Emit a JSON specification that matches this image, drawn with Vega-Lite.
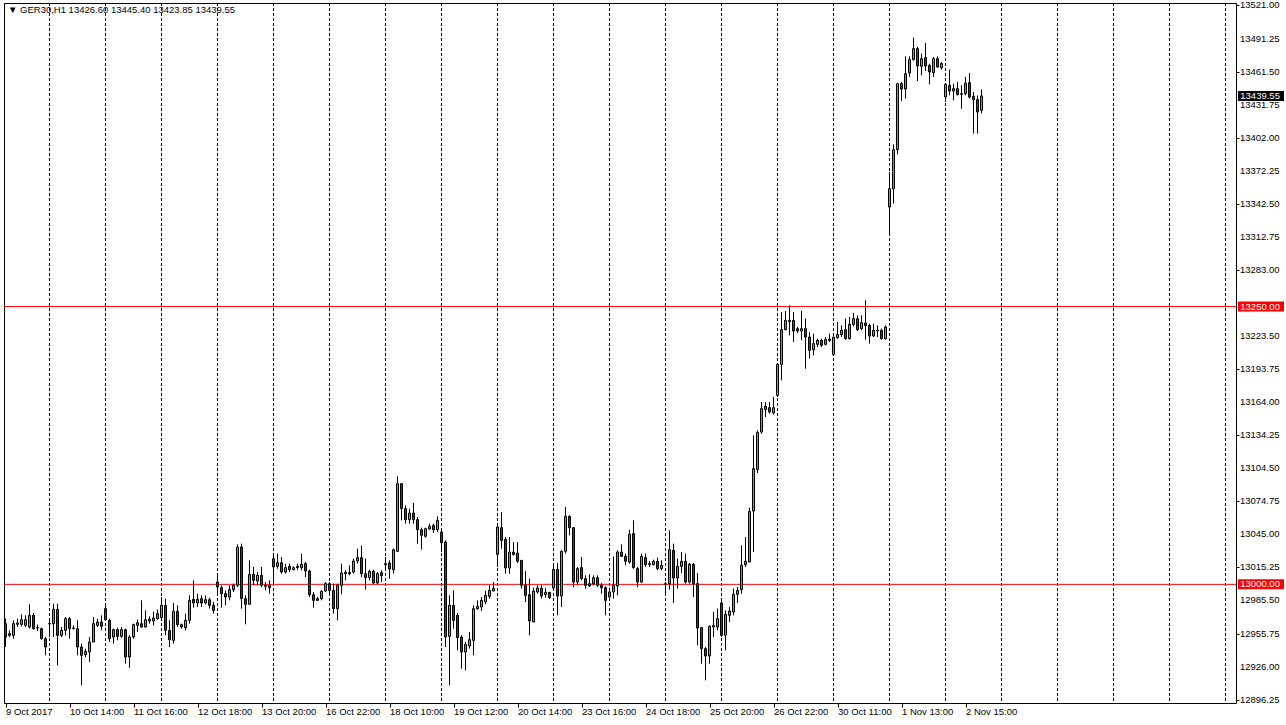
{
"$schema":"https://vega.github.io/schema/vega-lite/v6.json",
"width":1232,"height":700,
"autosize":{"type":"none"},
"padding":{"left":4,"top":3,"right":50,"bottom":22},
"background":"white",
"config":{"view":{"stroke":"#000","strokeWidth":1},"font":"Liberation Sans","axis":{"labelOverlap":false,"labelFlush":false,"grid":false,"domain":false,"title":null}},
"title":{"text":"▼ GER30,H1  13426.60 13445.40 13423.85 13439.55","anchor":"start","frame":"group","offset":-14,"dx":4,"font":"Liberation Sans","fontSize":9.5,"fontWeight":"normal","color":"#000"},
"datasets":{
"grid":[{"g":11},{"g":25},{"g":39},{"g":53},{"g":67},{"g":81},{"g":95},{"g":109},{"g":123},{"g":137},{"g":151},{"g":165},{"g":179},{"g":193},{"g":207},{"g":221},{"g":235},{"g":249},{"g":263},{"g":277},{"g":291},{"g":305}],
"yticks":[{"v":13521},{"v":13491.25},{"v":13461.5},{"v":13431.75},{"v":13402},{"v":13372.25},{"v":13342.5},{"v":13312.75},{"v":13283},{"v":13223.5},{"v":13193.75},{"v":13164},{"v":13134.25},{"v":13104.5},{"v":13074.75},{"v":13045},{"v":13015.25},{"v":12985.5},{"v":12955.75},{"v":12926},{"v":12896.25}],
"lines":[{"p":13250},{"p":13000}],
"boxes":[{"p":13250,"t":"13250.00","bg":"#ff0000"},{"p":13000,"t":"13000.00","bg":"#ff0000"},{"p":13439.55,"t":"13439.55","bg":"#000000"}],
"candles":[
{"i":0,"o":12964.6,"h":12969.1,"l":12943.6,"c":12952.6},
{"i":1,"o":12955.6,"h":12958.6,"l":12952.6,"c":12954.1},
{"i":2,"o":12954.1,"h":12967.6,"l":12951.1,"c":12964.6},
{"i":3,"o":12964.0,"h":12969.1,"l":12961.6,"c":12965.2},
{"i":4,"o":12964.0,"h":12973.0,"l":12962.2,"c":12968.2},
{"i":5,"o":12963.1,"h":12972.1,"l":12961.6,"c":12968.2},
{"i":6,"o":12961.6,"h":12982.0,"l":12960.1,"c":12972.1},
{"i":7,"o":12972.1,"h":12974.2,"l":12959.2,"c":12960.1},
{"i":8,"o":12961.0,"h":12963.7,"l":12958.0,"c":12960.7},
{"i":9,"o":12960.1,"h":12961.0,"l":12950.2,"c":12951.1},
{"i":10,"o":12951.1,"h":12952.6,"l":12936.1,"c":12943.6},
{"i":11,"o":12964.3,"h":12967.6,"l":12952.6,"c":12964.6},
{"i":12,"o":12964.6,"h":12982.6,"l":12952.6,"c":12977.5},
{"i":13,"o":12977.5,"h":12982.6,"l":12927.1,"c":12954.1},
{"i":14,"o":12954.1,"h":12961.6,"l":12952.6,"c":12958.6},
{"i":15,"o":12958.6,"h":12970.6,"l":12954.1,"c":12969.1},
{"i":16,"o":12969.1,"h":12970.6,"l":12951.1,"c":12960.1},
{"i":17,"o":12960.7,"h":12963.1,"l":12959.2,"c":12960.4},
{"i":18,"o":12960.1,"h":12967.6,"l":12936.1,"c":12943.6},
{"i":19,"o":12943.6,"h":12946.6,"l":12909.1,"c":12936.1},
{"i":20,"o":12936.7,"h":12942.1,"l":12934.6,"c":12939.7},
{"i":21,"o":12939.1,"h":12952.6,"l":12930.1,"c":12948.1},
{"i":22,"o":12948.1,"h":12970.6,"l":12948.1,"c":12964.6},
{"i":23,"o":12963.1,"h":12969.1,"l":12961.6,"c":12966.1},
{"i":24,"o":12966.1,"h":12972.1,"l":12958.6,"c":12962.2},
{"i":25,"o":12978.1,"h":12981.1,"l":12967.6,"c":12968.2},
{"i":26,"o":12967.6,"h":12969.1,"l":12948.1,"c":12951.1},
{"i":27,"o":12952.6,"h":12960.1,"l":12946.6,"c":12959.2},
{"i":28,"o":12959.2,"h":12961.0,"l":12949.6,"c":12953.2},
{"i":29,"o":12953.2,"h":12961.6,"l":12952.0,"c":12959.2},
{"i":30,"o":12959.2,"h":12960.1,"l":12928.6,"c":12934.6},
{"i":31,"o":12934.6,"h":12954.1,"l":12925.0,"c":12952.6},
{"i":32,"o":12952.6,"h":12964.6,"l":12951.0,"c":12963.7},
{"i":33,"o":12963.1,"h":12968.2,"l":12957.1,"c":12965.5},
{"i":34,"o":12964.6,"h":12985.6,"l":12961.0,"c":12961.6},
{"i":35,"o":12961.6,"h":12976.6,"l":12961.0,"c":12968.2},
{"i":36,"o":12967.0,"h":12971.2,"l":12964.6,"c":12968.5},
{"i":37,"o":12967.0,"h":12975.4,"l":12963.1,"c":12969.7},
{"i":38,"o":12969.1,"h":12977.2,"l":12968.2,"c":12973.6},
{"i":39,"o":12970.0,"h":12988.6,"l":12968.2,"c":12981.1},
{"i":40,"o":12981.1,"h":12987.1,"l":12954.1,"c":12958.6},
{"i":41,"o":12958.6,"h":12967.6,"l":12943.6,"c":12950.2},
{"i":42,"o":12949.6,"h":12983.2,"l":12946.6,"c":12975.7},
{"i":43,"o":12975.7,"h":12981.1,"l":12961.6,"c":12963.7},
{"i":44,"o":12963.7,"h":12964.6,"l":12960.1,"c":12961.6},
{"i":45,"o":12961.0,"h":12973.6,"l":12958.6,"c":12967.6},
{"i":46,"o":12967.6,"h":12990.1,"l":12964.6,"c":12985.6},
{"i":47,"o":12986.5,"h":13003.6,"l":12979.0,"c":12983.2},
{"i":48,"o":12983.2,"h":12991.6,"l":12979.6,"c":12986.5},
{"i":49,"o":12987.1,"h":12990.1,"l":12979.6,"c":12983.2},
{"i":50,"o":12983.2,"h":12990.1,"l":12982.0,"c":12986.2},
{"i":51,"o":12986.2,"h":12988.0,"l":12978.1,"c":12981.1},
{"i":52,"o":12981.1,"h":12984.1,"l":12973.6,"c":12976.6},
{"i":53,"o":13002.1,"h":13009.6,"l":12990.1,"c":12997.6},
{"i":54,"o":12997.0,"h":12999.1,"l":12979.0,"c":12991.6},
{"i":55,"o":12991.6,"h":12994.6,"l":12981.1,"c":12988.6},
{"i":56,"o":12988.6,"h":12999.1,"l":12985.6,"c":12995.2},
{"i":57,"o":12995.2,"h":13000.6,"l":12993.1,"c":12999.1},
{"i":58,"o":12999.1,"h":13036.0,"l":12997.6,"c":13033.6},
{"i":59,"o":13033.6,"h":13036.6,"l":12978.1,"c":12987.1},
{"i":60,"o":12987.1,"h":12990.1,"l":12964.0,"c":12982.0},
{"i":61,"o":12982.0,"h":13021.6,"l":12982.0,"c":13009.0},
{"i":62,"o":13009.0,"h":13015.6,"l":12999.1,"c":13003.6},
{"i":63,"o":13003.0,"h":13011.1,"l":12999.1,"c":13008.1},
{"i":64,"o":13008.1,"h":13015.6,"l":12997.6,"c":12999.1},
{"i":65,"o":12999.1,"h":13002.1,"l":12994.6,"c":12998.2},
{"i":66,"o":12999.1,"h":13003.6,"l":12991.6,"c":12997.0},
{"i":67,"o":13023.1,"h":13026.1,"l":13000.6,"c":13015.6},
{"i":68,"o":13016.2,"h":13027.6,"l":13014.1,"c":13019.5},
{"i":69,"o":13019.5,"h":13024.6,"l":13009.6,"c":13011.1},
{"i":70,"o":13011.1,"h":13018.6,"l":13009.6,"c":13015.0},
{"i":71,"o":13016.2,"h":13018.6,"l":13011.1,"c":13013.2},
{"i":72,"o":13013.2,"h":13016.2,"l":13012.6,"c":13015.0},
{"i":73,"o":13015.0,"h":13018.6,"l":13013.2,"c":13016.2},
{"i":74,"o":13015.0,"h":13027.6,"l":13012.6,"c":13018.0},
{"i":75,"o":13018.6,"h":13020.1,"l":13006.6,"c":13012.0},
{"i":76,"o":13012.0,"h":13013.2,"l":12988.6,"c":12990.7},
{"i":77,"o":12990.7,"h":12993.1,"l":12979.0,"c":12985.6},
{"i":78,"o":12987.1,"h":12988.6,"l":12985.0,"c":12985.6},
{"i":79,"o":12987.1,"h":12994.6,"l":12985.6,"c":12993.7},
{"i":80,"o":12994.0,"h":13002.1,"l":12993.1,"c":13000.6},
{"i":81,"o":13000.6,"h":13002.1,"l":12991.0,"c":12994.6},
{"i":82,"o":12994.6,"h":13000.6,"l":12973.6,"c":12978.1},
{"i":83,"o":12978.1,"h":13000.6,"l":12967.6,"c":12999.1},
{"i":84,"o":12999.1,"h":13018.6,"l":12991.0,"c":13010.2},
{"i":85,"o":13009.6,"h":13012.6,"l":13003.6,"c":13010.8},
{"i":86,"o":13010.8,"h":13017.1,"l":13008.1,"c":13009.6},
{"i":87,"o":13011.1,"h":13023.1,"l":13009.6,"c":13021.0},
{"i":88,"o":13021.0,"h":13032.1,"l":13018.6,"c":13024.0},
{"i":89,"o":13024.0,"h":13035.1,"l":13006.6,"c":13009.6},
{"i":90,"o":13009.6,"h":13023.1,"l":12995.2,"c":13006.0},
{"i":91,"o":13006.0,"h":13013.2,"l":13003.6,"c":13011.7},
{"i":92,"o":13011.7,"h":13013.2,"l":13000.6,"c":13001.2},
{"i":93,"o":13001.2,"h":13011.1,"l":13000.6,"c":13009.6},
{"i":94,"o":13010.5,"h":13012.6,"l":13002.1,"c":13007.8},
{"i":95,"o":13017.7,"h":13024.6,"l":13012.6,"c":13018.6},
{"i":96,"o":13019.2,"h":13021.6,"l":13005.1,"c":13013.8},
{"i":97,"o":13013.2,"h":13032.1,"l":13009.6,"c":13031.2},
{"i":98,"o":13029.7,"h":13097.2,"l":13029.1,"c":13090.6},
{"i":99,"o":13090.6,"h":13091.2,"l":13057.6,"c":13068.1},
{"i":100,"o":13068.1,"h":13071.1,"l":13054.6,"c":13058.2},
{"i":101,"o":13058.2,"h":13068.1,"l":13054.6,"c":13064.2},
{"i":102,"o":13064.2,"h":13073.2,"l":13054.6,"c":13058.2},
{"i":103,"o":13058.2,"h":13060.6,"l":13036.6,"c":13049.2},
{"i":104,"o":13049.2,"h":13051.0,"l":13031.2,"c":13044.1},
{"i":105,"o":13043.2,"h":13051.0,"l":13042.0,"c":13050.1},
{"i":106,"o":13049.8,"h":13054.6,"l":13049.2,"c":13052.2},
{"i":107,"o":13053.1,"h":13054.6,"l":13046.2,"c":13049.2},
{"i":108,"o":13049.2,"h":13061.2,"l":13047.1,"c":13057.6},
{"i":109,"o":13047.1,"h":13048.6,"l":13029.1,"c":13037.5},
{"i":110,"o":13038.1,"h":13039.6,"l":12943.6,"c":12952.6},
{"i":111,"o":12953.2,"h":12990.1,"l":12909.1,"c":12981.1},
{"i":112,"o":12981.1,"h":12994.6,"l":12960.1,"c":12967.6},
{"i":113,"o":12972.1,"h":12974.2,"l":12940.6,"c":12952.0},
{"i":114,"o":12952.6,"h":12954.1,"l":12924.1,"c":12939.1},
{"i":115,"o":12939.1,"h":12948.1,"l":12922.6,"c":12946.0},
{"i":116,"o":12944.5,"h":12957.1,"l":12942.1,"c":12950.2},
{"i":117,"o":12949.6,"h":12981.1,"l":12936.1,"c":12978.1},
{"i":118,"o":12978.1,"h":12985.6,"l":12977.2,"c":12980.2},
{"i":119,"o":12979.6,"h":12988.6,"l":12976.0,"c":12985.6},
{"i":120,"o":12984.1,"h":12994.0,"l":12982.0,"c":12990.1},
{"i":121,"o":12989.2,"h":12999.1,"l":12987.1,"c":12994.6},
{"i":122,"o":12994.0,"h":13002.1,"l":12994.0,"c":12996.4},
{"i":123,"o":13027.0,"h":13053.1,"l":13015.6,"c":13051.6},
{"i":124,"o":13051.0,"h":13065.1,"l":13032.1,"c":13039.6},
{"i":125,"o":13040.5,"h":13042.6,"l":13009.6,"c":13014.7},
{"i":126,"o":13014.7,"h":13042.6,"l":13009.6,"c":13029.1},
{"i":127,"o":13029.1,"h":13038.1,"l":13026.1,"c":13026.7},
{"i":128,"o":13028.2,"h":13038.1,"l":13019.2,"c":13020.7},
{"i":129,"o":13021.6,"h":13021.6,"l":12996.1,"c":12999.1},
{"i":130,"o":12999.1,"h":13012.0,"l":12984.1,"c":12990.1},
{"i":131,"o":12990.7,"h":13005.1,"l":12954.1,"c":12967.0},
{"i":132,"o":12966.1,"h":12997.0,"l":12966.1,"c":12994.0},
{"i":133,"o":12993.1,"h":12999.1,"l":12991.6,"c":12996.7},
{"i":134,"o":12996.4,"h":12999.1,"l":12987.1,"c":12989.5},
{"i":135,"o":12990.7,"h":12997.0,"l":12988.0,"c":12992.8},
{"i":136,"o":12992.8,"h":12993.1,"l":12986.8,"c":12988.0},
{"i":137,"o":12996.7,"h":13017.1,"l":12995.2,"c":13013.5},
{"i":138,"o":13013.5,"h":13019.2,"l":12972.1,"c":12989.5},
{"i":139,"o":12989.5,"h":13030.6,"l":12979.6,"c":13029.7},
{"i":140,"o":13029.7,"h":13069.6,"l":13027.6,"c":13061.2},
{"i":141,"o":13061.2,"h":13062.1,"l":13044.1,"c":13051.0},
{"i":142,"o":13051.0,"h":13051.6,"l":12997.6,"c":13002.1},
{"i":143,"o":13002.1,"h":13015.6,"l":12999.1,"c":13014.1},
{"i":144,"o":13015.0,"h":13024.6,"l":13003.6,"c":13005.1},
{"i":145,"o":13005.1,"h":13008.1,"l":12996.1,"c":12999.1},
{"i":146,"o":13000.6,"h":13009.0,"l":12997.6,"c":12998.5},
{"i":147,"o":13000.6,"h":13008.1,"l":12999.1,"c":13006.0},
{"i":148,"o":13006.0,"h":13008.1,"l":12997.6,"c":12999.1},
{"i":149,"o":12999.1,"h":13001.2,"l":12991.6,"c":12997.0},
{"i":150,"o":12997.0,"h":12998.2,"l":12972.1,"c":12985.6},
{"i":151,"o":12988.6,"h":12997.0,"l":12988.0,"c":12993.1},
{"i":152,"o":12993.1,"h":13025.2,"l":12987.1,"c":12999.1},
{"i":153,"o":12998.5,"h":13030.6,"l":12990.1,"c":13029.1},
{"i":154,"o":13029.1,"h":13036.0,"l":13024.6,"c":13025.2},
{"i":155,"o":13025.2,"h":13027.6,"l":13017.1,"c":13020.7},
{"i":156,"o":13020.1,"h":13049.2,"l":13018.6,"c":13045.0},
{"i":157,"o":13045.6,"h":13057.6,"l":13014.1,"c":13015.0},
{"i":158,"o":13014.1,"h":13015.6,"l":12997.6,"c":13002.1},
{"i":159,"o":13002.1,"h":13027.6,"l":13001.2,"c":13025.2},
{"i":160,"o":13024.0,"h":13027.6,"l":13015.6,"c":13017.7},
{"i":161,"o":13018.6,"h":13021.0,"l":13015.6,"c":13017.7},
{"i":162,"o":13017.7,"h":13022.2,"l":13017.1,"c":13020.7},
{"i":163,"o":13020.7,"h":13024.0,"l":13012.6,"c":13014.1},
{"i":164,"o":13014.1,"h":13021.6,"l":13012.6,"c":13017.1},
{"i":165,"o":13000.0,"h":13002.1,"l":12991.6,"c":13000.6},
{"i":166,"o":13000.6,"h":13048.6,"l":12995.2,"c":13031.2},
{"i":167,"o":13030.6,"h":13036.6,"l":12983.2,"c":13005.7},
{"i":168,"o":13005.7,"h":13023.1,"l":12996.1,"c":13016.2},
{"i":169,"o":13016.2,"h":13029.1,"l":13010.2,"c":13020.7},
{"i":170,"o":13020.7,"h":13027.6,"l":13000.6,"c":13002.1},
{"i":171,"o":13002.1,"h":13019.2,"l":13000.6,"c":13018.0},
{"i":172,"o":13018.0,"h":13019.2,"l":12988.6,"c":13000.6},
{"i":173,"o":13000.6,"h":13010.2,"l":12945.1,"c":12960.7},
{"i":174,"o":12961.0,"h":12961.6,"l":12928.6,"c":12942.1},
{"i":175,"o":12942.1,"h":12943.6,"l":12913.6,"c":12935.5},
{"i":176,"o":12935.5,"h":12963.1,"l":12928.6,"c":12962.2},
{"i":177,"o":12961.6,"h":12975.1,"l":12952.6,"c":12963.1},
{"i":178,"o":12961.6,"h":12978.1,"l":12958.6,"c":12969.1},
{"i":179,"o":12983.2,"h":12985.6,"l":12952.6,"c":12954.1},
{"i":180,"o":12954.1,"h":12976.6,"l":12940.6,"c":12973.0},
{"i":181,"o":12972.1,"h":12979.6,"l":12966.1,"c":12976.0},
{"i":182,"o":12975.1,"h":12996.1,"l":12972.1,"c":12991.0},
{"i":183,"o":12991.0,"h":12997.6,"l":12983.2,"c":12994.6},
{"i":184,"o":12995.2,"h":13035.1,"l":12991.6,"c":13017.1},
{"i":185,"o":13017.7,"h":13042.6,"l":13015.6,"c":13020.7},
{"i":186,"o":13020.1,"h":13069.0,"l":13020.1,"c":13065.7},
{"i":187,"o":13066.0,"h":13134.1,"l":13029.1,"c":13104.1},
{"i":188,"o":13103.2,"h":13138.6,"l":13100.2,"c":13136.5},
{"i":189,"o":13137.1,"h":13164.1,"l":13135.6,"c":13158.1},
{"i":190,"o":13157.2,"h":13164.1,"l":13150.6,"c":13160.2},
{"i":191,"o":13159.0,"h":13164.1,"l":13153.6,"c":13155.1},
{"i":192,"o":13154.2,"h":13168.6,"l":13153.0,"c":13159.0},
{"i":193,"o":13170.1,"h":13198.0,"l":13168.6,"c":13198.0},
{"i":194,"o":13198.0,"h":13245.1,"l":13183.6,"c":13229.2},
{"i":195,"o":13229.2,"h":13246.0,"l":13228.6,"c":13237.6},
{"i":196,"o":13236.4,"h":13251.1,"l":13224.1,"c":13237.6},
{"i":197,"o":13237.6,"h":13245.1,"l":13218.1,"c":13228.0},
{"i":198,"o":13230.1,"h":13231.6,"l":13226.2,"c":13228.0},
{"i":199,"o":13228.0,"h":13246.0,"l":13219.6,"c":13230.1},
{"i":200,"o":13230.1,"h":13239.1,"l":13194.1,"c":13222.6},
{"i":201,"o":13222.6,"h":13227.1,"l":13203.1,"c":13210.6},
{"i":202,"o":13211.2,"h":13225.6,"l":13206.1,"c":13216.6},
{"i":203,"o":13216.0,"h":13221.1,"l":13213.6,"c":13219.6},
{"i":204,"o":13219.6,"h":13221.1,"l":13213.6,"c":13215.1},
{"i":205,"o":13216.0,"h":13222.6,"l":13215.1,"c":13220.2},
{"i":206,"o":13219.6,"h":13225.6,"l":13218.1,"c":13220.8},
{"i":207,"o":13206.7,"h":13222.6,"l":13206.1,"c":13222.6},
{"i":208,"o":13222.0,"h":13236.1,"l":13221.1,"c":13225.0},
{"i":209,"o":13224.7,"h":13233.1,"l":13222.6,"c":13228.6},
{"i":210,"o":13229.2,"h":13239.1,"l":13220.2,"c":13221.1},
{"i":211,"o":13221.1,"h":13240.6,"l":13220.2,"c":13234.0},
{"i":212,"o":13234.0,"h":13244.2,"l":13232.2,"c":13239.1},
{"i":213,"o":13239.1,"h":13242.1,"l":13228.0,"c":13229.2},
{"i":214,"o":13230.1,"h":13242.1,"l":13228.6,"c":13235.5},
{"i":215,"o":13235.2,"h":13255.6,"l":13220.2,"c":13232.8},
{"i":216,"o":13233.1,"h":13234.6,"l":13216.6,"c":13223.5},
{"i":217,"o":13223.5,"h":13234.6,"l":13222.6,"c":13228.6},
{"i":218,"o":13228.6,"h":13233.1,"l":13222.6,"c":13228.0},
{"i":219,"o":13228.6,"h":13230.1,"l":13220.2,"c":13221.1},
{"i":220,"o":13221.1,"h":13233.1,"l":13220.2,"c":13231.6},
{"i":221,"o":13339.6,"h":13371.1,"l":13314.1,"c":13356.1},
{"i":222,"o":13356.1,"h":13396.0,"l":13342.6,"c":13391.2},
{"i":223,"o":13391.2,"h":13450.6,"l":13387.0,"c":13450.6},
{"i":224,"o":13450.6,"h":13452.1,"l":13435.0,"c":13445.8},
{"i":225,"o":13445.8,"h":13475.2,"l":13437.1,"c":13459.6},
{"i":226,"o":13460.2,"h":13475.2,"l":13456.6,"c":13472.2},
{"i":227,"o":13472.2,"h":13492.0,"l":13471.6,"c":13482.1},
{"i":228,"o":13482.1,"h":13483.6,"l":13453.0,"c":13466.5},
{"i":229,"o":13466.2,"h":13477.6,"l":13458.1,"c":13473.1},
{"i":230,"o":13474.0,"h":13487.2,"l":13462.0,"c":13466.5},
{"i":231,"o":13467.1,"h":13468.6,"l":13450.0,"c":13461.1},
{"i":232,"o":13460.5,"h":13474.6,"l":13456.6,"c":13473.1},
{"i":233,"o":13473.1,"h":13475.2,"l":13465.0,"c":13465.6},
{"i":234,"o":13465.0,"h":13470.1,"l":13463.2,"c":13468.6},
{"i":235,"o":13438.6,"h":13451.2,"l":13434.1,"c":13450.0},
{"i":236,"o":13449.1,"h":13463.2,"l":13440.1,"c":13444.0},
{"i":237,"o":13444.0,"h":13450.6,"l":13435.6,"c":13446.1},
{"i":238,"o":13446.1,"h":13452.1,"l":13440.1,"c":13440.7},
{"i":239,"o":13441.6,"h":13449.1,"l":13428.1,"c":13441.0},
{"i":240,"o":13441.6,"h":13456.6,"l":13440.1,"c":13451.2},
{"i":241,"o":13451.5,"h":13460.2,"l":13437.1,"c":13438.6},
{"i":242,"o":13439.2,"h":13443.1,"l":13405.6,"c":13436.2},
{"i":243,"o":13436.2,"h":13440.1,"l":13405.6,"c":13425.1},
{"i":244,"o":13426.6,"h":13445.4,"l":13423.85,"c":13439.55}
]},
"layer":[
{"data":{"name":"grid"},"mark":{"type":"rule","color":"#000","strokeWidth":1,"strokeDash":[3,2]},
 "encoding":{"x":{"field":"g","type":"quantitative","title":null,"scale":{"domain":[-0.375,307.625],"nice":false,"zero":false,"padding":0}}}},
{"data":{"name":"lines"},"mark":{"type":"rule","color":"#ff0000","strokeWidth":1},
 "encoding":{"y":{"field":"p","type":"quantitative","title":null,"scale":{"domain":[12893.2,13523.2],"nice":false,"zero":false,"padding":0}}}},
{"data":{"name":"candles"},"mark":{"type":"rule","color":"#000","strokeWidth":1},
 "encoding":{"x":{"field":"i","type":"quantitative","title":null,"scale":{"domain":[-0.375,307.625],"nice":false,"zero":false,"padding":0},
  "axis":{"orient":"bottom","values":[0,16,32,48,64,80,96,112,128,144,160,176,192,208,224,240],
   "labelExpr":"['9 Oct 2017','10 Oct 14:00','11 Oct 16:00','12 Oct 18:00','13 Oct 20:00','16 Oct 22:00','18 Oct 10:00','19 Oct 12:00','20 Oct 14:00','23 Oct 16:00','24 Oct 18:00','25 Oct 20:00','26 Oct 22:00','30 Oct 11:00','1 Nov 13:00','2 Nov 15:00'][round(datum.value/16)]",
   "labelAlign":"left","labelFlush":false,"labelOverlap":false,"labelBaseline":"top","labelPadding":-1,"labelOffset":0,
   "tickSize":4,"tickColor":"#000","domain":false,"grid":false,"title":null,
   "labelFont":"Liberation Sans","labelFontSize":9.5,"labelColor":"#000"}},
  "y":{"field":"l","type":"quantitative","title":null,"scale":{"domain":[12893.2,13523.2],"nice":false,"zero":false,"padding":0},
  "axis":{"orient":"right","values":[13521,13491.25,13461.5,13431.75,13402,13372.25,13342.5,13312.75,13283,13223.5,13193.75,13164,13134.25,13104.5,13074.75,13045,13015.25,12985.5,12955.75,12926,12896.25],
   "labels":false,"tickSize":3,"tickColor":"#000","domain":false,"grid":false,"title":null}},
  "y2":{"field":"h"}}},
{"data":{"name":"candles"},"mark":{"type":"bar","size":2,"stroke":"#000","strokeWidth":1},
 "encoding":{"x":{"field":"i","type":"quantitative","title":null,"scale":{"domain":[-0.375,307.625],"nice":false,"zero":false,"padding":0}},
  "y":{"field":"o","type":"quantitative","title":null,"scale":{"domain":[12893.2,13523.2],"nice":false,"zero":false,"padding":0}},
  "y2":{"field":"c"},
  "color":{"condition":{"test":"datum.c >= datum.o","value":"#32cd32"},"value":"#e00000"}}},
{"data":{"name":"yticks"},"mark":{"type":"text","align":"left","baseline":"middle","color":"#000","font":"Liberation Sans","fontSize":9.5},
 "encoding":{"x":{"datum":308.6,"type":"quantitative","title":null,"scale":{"domain":[-0.375,307.625],"nice":false,"zero":false,"padding":0}},
  "y":{"field":"v","type":"quantitative","title":null,"scale":{"domain":[12893.2,13523.2],"nice":false,"zero":false,"padding":0}},
  "text":{"field":"v","type":"quantitative","format":".2f"}}},
{"data":{"name":"boxes"},"mark":{"type":"bar","size":10},
 "encoding":{"x":{"datum":308.125,"type":"quantitative","title":null,"scale":{"domain":[-0.375,307.625],"nice":false,"zero":false,"padding":0}},
  "x2":{"datum":319.625},
  "y":{"field":"p","type":"quantitative","title":null,"scale":{"domain":[12893.2,13523.2],"nice":false,"zero":false,"padding":0}},
  "color":{"field":"bg","type":"nominal","scale":null}}},
{"data":{"name":"boxes"},"mark":{"type":"text","align":"left","baseline":"middle","color":"#fff","font":"Liberation Sans","fontSize":9.5},
 "encoding":{"x":{"datum":308.7,"type":"quantitative","title":null,"scale":{"domain":[-0.375,307.625],"nice":false,"zero":false,"padding":0}},
  "y":{"field":"p","type":"quantitative","title":null,"scale":{"domain":[12893.2,13523.2],"nice":false,"zero":false,"padding":0}},
  "text":{"field":"t"}}}
]
}
